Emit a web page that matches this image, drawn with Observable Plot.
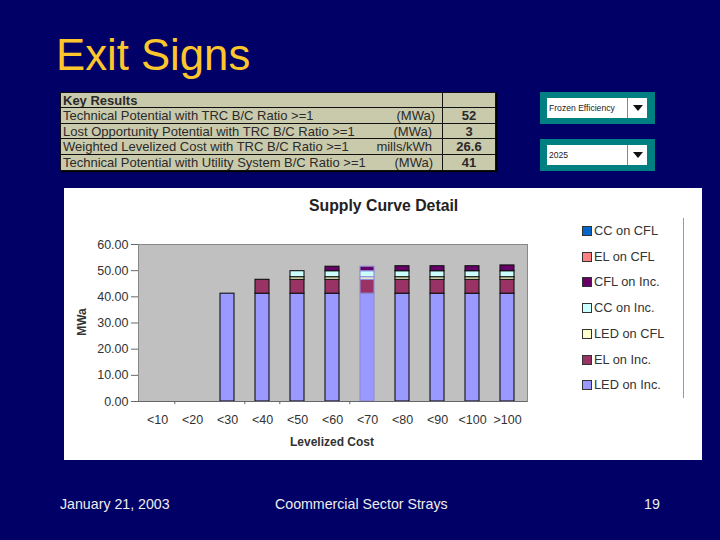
<!DOCTYPE html>
<html><head><meta charset="utf-8">
<script src="https://cdn.jsdelivr.net/npm/d3@7"></script>
<script src="https://cdn.jsdelivr.net/npm/@observablehq/plot@0.6"></script>
<style>
html,body{margin:0;padding:0;width:720px;height:540px;overflow:hidden;background:#000066;font-family:"Liberation Sans",Arial,sans-serif}
.abs{position:absolute;white-space:nowrap}
#title{left:56px;top:31px;font-size:43.7px;line-height:47px;color:#fcc62c}
#kr{left:60px;top:92px;width:436px;height:79px;background:#c9c9ab;border:1px solid #111;box-sizing:border-box;box-shadow:1px 1px 1px #000;color:#2a2a2a;font-size:13px}
#kr .row{position:absolute;left:0;right:0;height:16px;line-height:15px;border-top:1px solid #111;box-sizing:border-box}
#kr .row span{position:absolute;top:0}
.sel{left:540px;width:115px;height:32px;background:#008080}
.sel div{position:absolute;left:7px;top:6px;width:100px;height:20px;background:#fff;font-size:8.6px;line-height:20px;color:#222;padding-left:2px;box-sizing:border-box}
.sel i{position:absolute;left:80px;top:0;width:20px;height:20px;border-left:1px solid #888;box-sizing:border-box}
.sel i:after{content:"";position:absolute;left:5px;top:7px;border-left:5px solid transparent;border-right:5px solid transparent;border-top:6px solid #111}
#panel{left:64px;top:188px;width:638px;height:272px;background:#fff}
#leg{left:582px;top:224px;font-size:12.8px;color:#333}
#leg .it{position:absolute;left:0;height:14px;line-height:14px;white-space:nowrap}
#leg b{display:inline-block;width:8px;height:8px;border:1px solid #333;margin-right:2px;box-sizing:content-box;vertical-align:-1px}
#vline{left:683px;top:218px;width:1px;height:180px;background:#999}
.ft{top:496px;font-size:14.2px;line-height:16px;color:#eee}
</style></head><body>
<div id="root"></div>
<script>
const categories = ["<10","<20","<30","<40","<50","<60","<70","<80","<90","<100",">100"];
const ledOnInc  = [0,0,41.2,41.2,41.2,41.2,41.2,41.2,41.2,41.2,41.2];
const elOnInc   = [0,0,0,5.3,5.3,5.3,5.3,5.3,5.3,5.3,5.3];
const ledOnCfl  = [0,0,0,0,1.0,1.0,1.0,1.0,1.0,1.0,1.0];
const ccOnInc   = [0,0,0,0,2.3,2.3,2.3,2.3,2.3,2.3,2.3];
const cflOnInc  = [0,0,0,0,0,1.7,1.7,1.9,1.9,1.9,2.2];
const elOnCfl   = [0,0,0,0,0,0,0,0,0,0,0];
const ccOnCfl   = [0,0,0,0,0,0,0,0,0,0,0];
const seriesNames  = ["LED on Inc.","EL on Inc.","LED on CFL","CC on Inc.","CFL on Inc.","EL on CFL","CC on CFL"];
const seriesValues = [ledOnInc,elOnInc,ledOnCfl,ccOnInc,cflOnInc,elOnCfl,ccOnCfl];
const seriesColors = ["#9999ff","#993366","#ffffcc","#ccffff","#660066","#ff8080","#0066cc"];
const yTicks = [0,10,20,30,40,50,60];
const resultsLabels = ["Technical Potential with TRC B/C Ratio >=1","Lost Opportunity Potential with TRC B/C Ratio >=1","Weighted Levelized Cost with TRC B/C Ratio >=1","Technical Potential with Utility System B/C Ratio >=1"];
const resultsUnits = ["(MWa)","(MWa)","mills/kWh","(MWa)"];
const resultsValues = ["52","3","26.6","41"];
const visibleTicks = ["<20","<40","<50","<70"];

const rows = seriesNames.flatMap((s,i)=>categories.map((c,j)=>({series:s,cat:c,v:seriesValues[i][j]}))).filter(d=>d.v>0);

const chart = Plot.plot({
  width:638,height:272,
  marginLeft:74,marginRight:175,marginTop:56,marginBottom:59,
  style:{background:"#fff",fontFamily:"Liberation Sans,Arial,sans-serif",overflow:"visible"},
  x:{domain:categories,paddingInner:0.59,paddingOuter:0.295,label:null},
  y:{domain:[0,60],label:null},
  color:{domain:seriesNames,range:seriesColors},
  marks:[
    Plot.frame({fill:"#c0c0c0",stroke:"#888"}),
    Plot.barY(rows,Plot.stackY({x:"cat",y:"v",fill:"series",order:seriesNames,
      stroke:{value:d=>d.cat==="<70"?"#8c8cd8":"#111",scale:null},strokeWidth:1.1})),
    Plot.ruleY([0],{stroke:"#666"}),
    Plot.ruleX(visibleTicks,{x:d=>d,y1:0,y2:-1.2,dx:-17.7,stroke:"#666"}),
    Plot.axisY({ticks:yTicks,tickFormat:d=>d.toFixed(2),tickSize:7,tickPadding:3,fontSize:12.5,color:"#333",stroke:"#666"}),
    Plot.axisX({tickSize:0,tickPadding:14,fontSize:12.5,color:"#333"})
  ]
});
const root=document.getElementById("root");
const el=(cls,id,html)=>{const d=document.createElement("div");d.className="abs "+(cls||"");if(id)d.id=id;if(html!=null)d.innerHTML=html;root.appendChild(d);return d};
el("", "title","Exit Signs");
const esc=s=>s.replace(/</g,"&lt;").replace(/>/g,"&gt;");
const unitRight=[60,63,63,62];
let kr=`<div class="row" style="top:0;border-top:none"><span style="left:2px;font-weight:bold">Key Results</span></div>`;
resultsLabels.forEach((l,i)=>{kr+=`<div class="row" style="top:${14+i*15.7}px"><span style="left:2px">${esc(l)}</span><span style="right:${unitRight[i]}px">${resultsUnits[i]}</span><span style="right:0;width:52px;text-align:center;font-weight:bold">${resultsValues[i]}</span></div>`});
kr+=`<div style="position:absolute;left:381px;top:0;bottom:0;width:1px;background:#111"></div>`;
el("","kr",kr);
el("sel","","<div>Frozen Efficiency<i></i></div>").style.top="92px";
el("sel","","<div>2025<i></i></div>").style.top="139px";
const panel=el("","panel");panel.appendChild(chart);
el("","",`<span style="font-weight:bold;font-size:15.8px;color:#222">Supply Curve Detail</span>`).style.cssText="left:309px;top:197px";
el("","",`<span style="font-weight:bold;font-size:12px;color:#333">Levelized Cost</span>`).style.cssText="left:290px;top:432px";
el("","",`<span style="font-weight:bold;font-size:12px;color:#333;display:block;transform:rotate(-90deg)">MWa</span>`).style.cssText="left:68px;top:315px";
let lg="";[...seriesNames].reverse().forEach((s,i)=>{const k=seriesNames.indexOf(s);lg+=`<div class="it" style="top:${i*25.7}px"><b style="background:${seriesColors[k]}"></b>${s}</div>`});
el("","leg",lg);
el("","vline");
el("ft","","January 21, 2003").style.left="60px";
el("ft","","Coommercial Sector Strays").style.left="275px";
el("ft","","19").style.left="644px";
</script></body></html>
